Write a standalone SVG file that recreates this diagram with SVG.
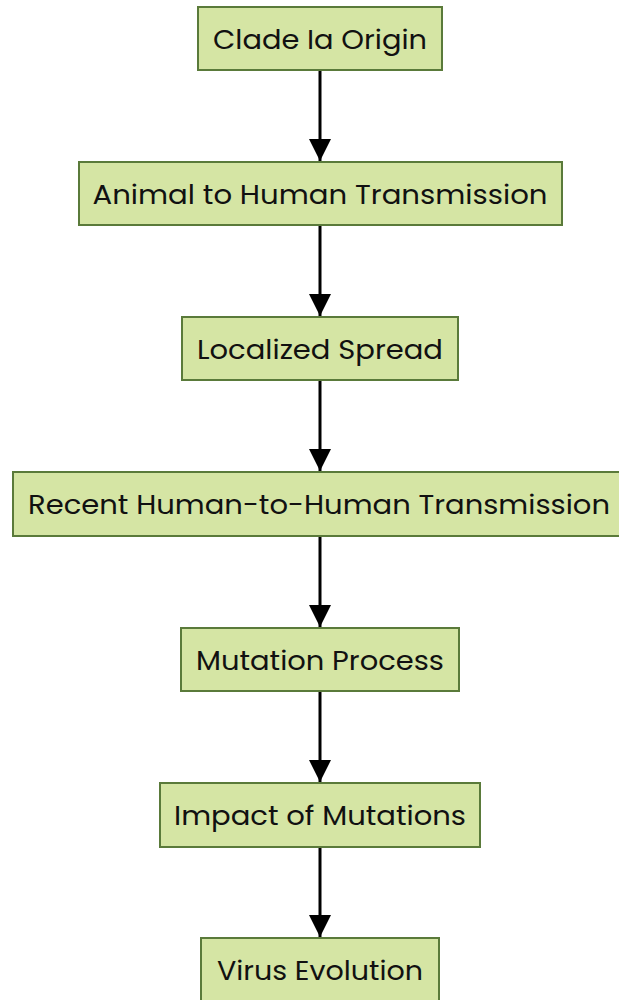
<svg xmlns="http://www.w3.org/2000/svg" width="619" height="1000" viewBox="0 0 619 1000">
<style>
.box{fill:#d5e5a4;stroke:#5a7a3a;stroke-width:2}
.lbl{font-family:"Poppins","Inter","Liberation Sans",sans-serif;font-size:26px;fill:#111;text-anchor:middle}
.edge{stroke:#000;stroke-width:3;fill:none}
</style>
<defs>
<marker id="ah" markerUnits="userSpaceOnUse" markerWidth="22" markerHeight="22" refX="22" refY="11" orient="auto">
<path d="M0,0 L22,11 L0,22 Z" fill="#000"/>
</marker>
</defs>
<g id="connectors">
<line class="edge" x1="320" y1="70" x2="320" y2="161" marker-end="url(#ah)"/>
<line class="edge" x1="320" y1="225" x2="320" y2="316" marker-end="url(#ah)"/>
<line class="edge" x1="320" y1="380" x2="320" y2="471" marker-end="url(#ah)"/>
<line class="edge" x1="320" y1="536" x2="320" y2="627" marker-end="url(#ah)"/>
<line class="edge" x1="320" y1="691" x2="320" y2="782" marker-end="url(#ah)"/>
<line class="edge" x1="320" y1="847" x2="320" y2="937" marker-end="url(#ah)"/>
</g>
<g id="n1"><rect class="box" x="198" y="7" width="244" height="63"/><text class="lbl" x="320" y="48.5" textLength="214" lengthAdjust="spacingAndGlyphs">Clade Ia Origin</text></g>
<g id="n2"><rect class="box" x="79" y="162" width="483" height="63"/><text class="lbl" x="320" y="203.5" textLength="455" lengthAdjust="spacingAndGlyphs">Animal to Human Transmission</text></g>
<g id="n3"><rect class="box" x="182" y="317" width="276" height="63"/><text class="lbl" x="320" y="358.5" textLength="246" lengthAdjust="spacingAndGlyphs">Localized Spread</text></g>
<g id="n4"><rect class="box" x="13" y="472" width="614" height="64"/><text class="lbl" x="319" y="514" textLength="582" lengthAdjust="spacingAndGlyphs">Recent Human-to-Human Transmission</text></g>
<g id="n5"><rect class="box" x="181" y="628" width="278" height="63"/><text class="lbl" x="320" y="669.5" textLength="248" lengthAdjust="spacingAndGlyphs">Mutation Process</text></g>
<g id="n6"><rect class="box" x="160" y="783" width="320" height="64"/><text class="lbl" x="320" y="825" textLength="292" lengthAdjust="spacingAndGlyphs">Impact of Mutations</text></g>
<g id="n7"><rect class="box" x="201" y="938" width="238" height="66"/><text class="lbl" x="320" y="980" textLength="206" lengthAdjust="spacingAndGlyphs">Virus Evolution</text></g>
</svg>
